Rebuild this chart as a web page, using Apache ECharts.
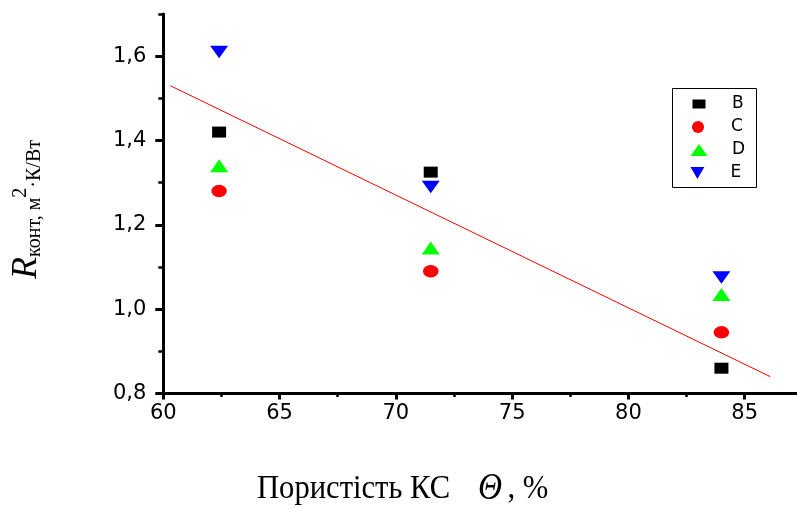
<!DOCTYPE html>
<html>
<head>
<meta charset="utf-8">
<script src="https://cdn.jsdelivr.net/npm/echarts@6/dist/echarts.min.js"></script>
<style>
  html, body { margin: 0; padding: 0; background: #ffffff; }
  #chart { width: 797px; height: 508px; }
</style>
</head>
<body>
<div id="chart"></div>
<script>
// Porosity of the capillary structure, %
const porosity = [62.4, 71.5, 84.0];

// Contact thermal resistance, m^2·K/W, per sample set
const seriesB = [1.42, 1.325, 0.86];
const seriesC = [1.28, 1.09, 0.945];
const seriesD = [1.34, 1.145, 1.035];
const seriesE = [1.61, 1.29, 1.075];

// End points of the linear trend
const trendX = [60.3, 86.1];
const trendY = [1.53, 0.84];

// Axis ticks
const xMajorTicks = [60, 65, 70, 75, 80, 85];
const xMinorTicks = [62.5, 67.5, 72.5, 77.5, 82.5];
const yMajorTicks = [0.8, 1.0, 1.2, 1.4, 1.6];
const yMinorTicks = [0.9, 1.1, 1.3, 1.5, 1.7];

const seriesNames = ['B', 'C', 'D', 'E'];

const X_MIN = 60, X_MAX = 87.25, Y_MIN = 0.8, Y_MAX = 1.7;

const ELLIPSE = 'path://M0,5 A5,5 0 1,1 10,5 A5,5 0 1,1 0,5 Z';
const TRI_DOWN = 'path://M0,0 L10,0 L5,8.66 Z';

const pairs = (ys) => porosity.map((x, i) => [x, ys[i]]);

const chart = echarts.init(document.getElementById('chart'), null, { renderer: 'canvas' });

const tickFont = { fontFamily: 'DejaVu Sans', fontSize: 21, color: '#000' };

function xAxisDef(ticks, major) {
  return {
    type: 'value', min: X_MIN, max: X_MAX, position: 'bottom',
    axisLine: { show: major, onZero: false, lineStyle: { color: '#000', width: 3 } },
    axisTick: { show: true, customValues: ticks, length: major ? 6 : 3.5,
                lineStyle: { color: '#000', width: major ? 3 : 2.5 } },
    axisLabel: major
      ? Object.assign({ show: true, customValues: ticks, margin: 10, formatter: v => String(v) }, tickFont)
      : { show: false },
    splitLine: { show: false }
  };
}

function yAxisDef(ticks, major) {
  return {
    type: 'value', min: Y_MIN, max: Y_MAX, position: 'left',
    axisLine: { show: major, onZero: false, lineStyle: { color: '#000', width: 3 } },
    axisTick: { show: true, customValues: ticks, length: major ? 8 : 5,
                lineStyle: { color: '#000', width: major ? 3 : 2.5 } },
    axisLabel: major
      ? Object.assign({ show: true, customValues: ticks, margin: 17,
                        formatter: v => v.toFixed(1).replace('.', ',') }, tickFont)
      : { show: false },
    splitLine: { show: false }
  };
}

// One small legend per entry so each icon keeps its own proportions
const legendItems = [
  { name: 'B', icon: 'rect', w: 13, h: 9, cy: 104 },
  { name: 'C', icon: ELLIPSE, w: 14, h: 12, cy: 127 },
  { name: 'D', icon: 'triangle', w: 17, h: 12, cy: 150 },
  { name: 'E', icon: TRI_DOWN, w: 17, h: 12, cy: 173 }
];
const LEGEND_ICON_CX = 699, LEGEND_TEXT_X = 732;

const legends = legendItems.map(it => ({
  show: true,
  data: [{ name: it.name, icon: it.icon }],
  left: LEGEND_ICON_CX - it.w / 2,
  top: it.cy - 9,
  padding: 0,
  itemWidth: it.w,
  itemHeight: it.h,
  selectedMode: false,
  itemStyle: { opacity: 1 },
  textStyle: {
    fontFamily: 'DejaVu Sans', fontSize: 17, color: '#000', lineHeight: 18,
    padding: [0, 0, 0, LEGEND_TEXT_X - (LEGEND_ICON_CX + it.w / 2 + 5)]
  }
}));

const serifFont = 'Liberation Serif';

function scatter(name, values, symbol, size, color) {
  return {
    name, type: 'scatter', data: pairs(values),
    symbol, symbolSize: size, z: 3,
    itemStyle: { color, opacity: 1 }
  };
}

const option = {
  backgroundColor: '#ffffff',
  animation: false,
  grid: { left: 163.3, right: 0, top: 14, bottom: 114.5, containLabel: false },
  xAxis: [xAxisDef(xMajorTicks, true), xAxisDef(xMinorTicks, false)],
  yAxis: [yAxisDef(yMajorTicks, true), yAxisDef(yMinorTicks, false)],
  legend: legends,
  series: [
    {
      name: 'trend', type: 'line', xAxisIndex: 0, yAxisIndex: 0,
      data: trendX.map((x, i) => [x, trendY[i]]),
      symbol: 'none', silent: true, z: 1,
      lineStyle: { color: '#ff0000', width: 1 }
    },
    scatter(seriesNames[0], seriesB, 'rect', [14, 11], '#000000'),
    scatter(seriesNames[1], seriesC, ELLIPSE, [15.5, 12.5], '#ff0000'),
    scatter(seriesNames[2], seriesD, 'triangle', [18, 13], '#00ff00'),
    scatter(seriesNames[3], seriesE, TRI_DOWN, [18, 12.5], '#0000ff')
  ],
  graphic: [
    // legend frame
    {
      type: 'rect', z: 50,
      shape: { x: 672.5, y: 88.5, width: 84, height: 99 },
      style: { fill: 'none', stroke: '#000', lineWidth: 1 }
    },
    // y-axis title, reading bottom to top
    {
      type: 'text', z: 50, x: 27, y: 209.5, rotation: Math.PI / 2,
      style: {
        text: '{r|R}{s|конт, м}{p|2}{u|·К/Вт}',
        align: 'center', verticalAlign: 'middle',
        textAlign: 'center', textVerticalAlign: 'middle',
        fill: '#000',
        rich: {
          r: { fontFamily: serifFont, fontStyle: 'italic', fontSize: 36, lineHeight: 36, verticalAlign: 'bottom', fill: '#000' },
          s: { fontFamily: serifFont, fontSize: 20, lineHeight: 20, verticalAlign: 'bottom', fill: '#000' },
          p: { fontFamily: serifFont, fontSize: 20, lineHeight: 20, verticalAlign: 'top', padding: [2, 0, 0, 0], fill: '#000' },
          u: { fontFamily: serifFont, fontSize: 20, lineHeight: 20, verticalAlign: 'bottom', fill: '#000' }
        }
      }
    },
    // x-axis title
    {
      type: 'text', z: 50, x: 257, y: 489.5, scaleX: 0.9,
      style: {
        text: '{n|Пористість КС  }{t|Θ}{n|, %}',
        align: 'left', verticalAlign: 'middle',
        textAlign: 'left', textVerticalAlign: 'middle',
        fill: '#000',
        rich: {
          n: { fontFamily: serifFont, fontSize: 34, lineHeight: 34, fill: '#000' },
          t: { fontFamily: serifFont, fontStyle: 'italic', fontSize: 37, lineHeight: 34, padding: [0, 6, 0, 14], fill: '#000' }
        }
      }
    }
  ]
};

chart.setOption(option);
</script>
</body>
</html>
